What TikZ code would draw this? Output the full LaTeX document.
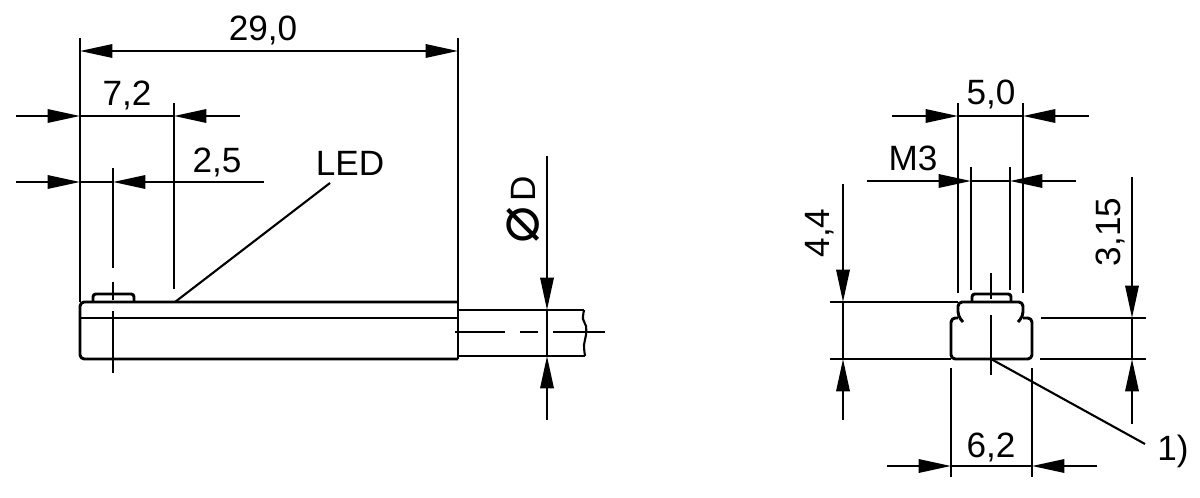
\documentclass[tikz,border=0pt]{standalone}
\usepackage{fontspec}
\setmainfont{Liberation Sans}
\newfontfamily\symfont{DejaVu Sans}
\usepackage{xcolor}
\usepackage{tikz}
\usetikzlibrary{arrows.meta,calc}

\tikzset{
    outline/.style={line width=2.1pt, line join=round},
    thinline/.style={line width=1.5pt},
    dimarrow/.style={thinline, -{Triangle[length=23pt,width=9.5pt]}},
    dimtext/.style={inner sep=0pt, font=\fontsize{25}{28}\selectfont}
}

\begin{document}
\begin{tikzpicture}[x=0.025cm,y=-0.025cm]
    \useasboundingbox (0,0) rectangle (1200,498);

    % Side view: housing
    \draw[outline, rounded corners=3pt] (458,302) -- (80,302) -- (80,359) -- (458,359);
    \draw[outline] (458,302) -- (458,359);
    \draw[outline] (80,318) -- (458,318);
    \draw[outline, rounded corners=2pt] (93,302) -- (93,294) -- (134,294) -- (134,302);

    % Side view: cable
    \draw[outline] (458,310) -- (584,310);
    \draw[outline] (458,356) -- (585,356);
    \draw[thinline] plot[smooth, tension=0.6] coordinates {
        (584,310) (583,319) (586,326) (586,335) (584,345) (585,356)
    };
    \draw[thinline] (455,332) -- (505,332);
    \draw[thinline] (520,332) -- (538,332);
    \draw[thinline] (553,332) -- (605,332);

    % Side view: centre line of the LED window
    \draw[thinline] (113,168) -- (113,268);
    \draw[thinline] (113,282) -- (113,300);
    \draw[thinline] (113,311) -- (113,373);

    % Side view: extension lines
    \draw[thinline] (80,38) -- (80,302);
    \draw[thinline] (458,38) -- (458,302);
    \draw[thinline] (174,103) -- (174,289);

    % Dimension 29,0
    \draw[thinline, {Triangle[length=23pt,width=9.5pt]}-{Triangle[length=23pt,width=9.5pt]}] (80,51) -- (458,51);
    \node[dimtext] (len) at (263,30) {29,0};

    % Dimension 7,2
    \draw[dimarrow] (16,116) -- (80,116);
    \draw[dimarrow] (240,116) -- (174,116);
    \draw[thinline] (80,116) -- (174,116);
    \node[dimtext] (ledpos) at (127,95) {7,2};

    % Dimension 2,5
    \draw[dimarrow] (16,182) -- (80,182);
    \draw[dimarrow] (264,182) -- (113,182);
    \draw[thinline] (80,182) -- (113,182);
    \node[dimtext] (ledoff) at (217,162) {2,5};

    % LED label
    \node[dimtext] (led) at (350,163) {LED};
    \coordinate (ledend) at (330,183);
    \coordinate (ledtip) at (175,302);
    \draw[thinline] (ledtip) -- (ledend);

    % Dimension D
    \draw[dimarrow] (547,156) -- (547,310);
    \draw[dimarrow] (547,420) -- (547,356);
    \draw[thinline] (547,310) -- (547,356);
    \node[dimtext, rotate=90] (dia) at (523,225) {\symfont\fontsize{44}{46}\selectfont ⌀};
    \node[dimtext, rotate=90] (dname) at (523,189) {D};

    % Front view: housing
    \draw[outline, rounded corners=3pt] (963,322) -- (958,316) -- (958,302) -- (1023,302) -- (1023,316) -- (1018,322);
    \draw[outline, rounded corners=3pt] (958,318) -- (951,318) -- (951,359) -- (1032,359) -- (1032,318) -- (1023,318);
    \draw[outline, rounded corners=2pt] (972,302) -- (972,294) -- (1011,294) -- (1011,302);

    % Front view: centre line
    \draw[thinline] (991,273) -- (991,299);
    \draw[thinline] (991,315) -- (991,375);

    % Dimension 5,0
    \draw[thinline] (958,103) -- (958,293);
    \draw[thinline] (1023,103) -- (1023,293);
    \draw[dimarrow] (892,116) -- (958,116);
    \draw[dimarrow] (1089,116) -- (1023,116);
    \draw[thinline] (958,116) -- (1023,116);
    \node[dimtext] (width) at (991,94) {5,0};

    % Dimension M3
    \draw[thinline] (971,167) -- (971,290);
    \draw[thinline] (1010,167) -- (1010,290);
    \draw[dimarrow] (867,181) -- (971,181);
    \draw[dimarrow] (1076,181) -- (1010,181);
    \draw[thinline] (971,181) -- (1010,181);
    \node[dimtext] (thread) at (913,158) {M3};

    % Dimension 4,4
    \draw[thinline] (830,302) -- (958,302);
    \draw[thinline] (830,359) -- (951,359);
    \draw[dimarrow] (843,184) -- (843,302);
    \draw[dimarrow] (843,420) -- (843,359);
    \draw[thinline] (843,302) -- (843,359);
    \node[dimtext, rotate=90] (height) at (820,233) {4,4};

    % Dimension 3,15
    \draw[thinline] (1041,318) -- (1146,318);
    \draw[thinline] (1040,359) -- (1146,359);
    \draw[dimarrow] (1132,177) -- (1132,318);
    \draw[dimarrow] (1132,424) -- (1132,359);
    \draw[thinline] (1132,318) -- (1132,359);
    \node[dimtext, rotate=90] (slot) at (1110,232) {3,15};

    % Dimension 6,2
    \draw[thinline] (951,368) -- (951,477);
    \draw[thinline] (1032,368) -- (1032,477);
    \draw[dimarrow] (887,466) -- (951,466);
    \draw[dimarrow] (1097,466) -- (1032,466);
    \draw[thinline] (951,466) -- (1032,466);
    \node[dimtext] (base) at (991,447) {6,2};

    % Note 1)
    \node[dimtext] (note) at (1173,451) {1)};
    \coordinate (noteend) at (1145,444);
    \coordinate (notetip) at (991,359);
    \draw[thinline] (notetip) -- (noteend);
\end{tikzpicture}
\end{document}
